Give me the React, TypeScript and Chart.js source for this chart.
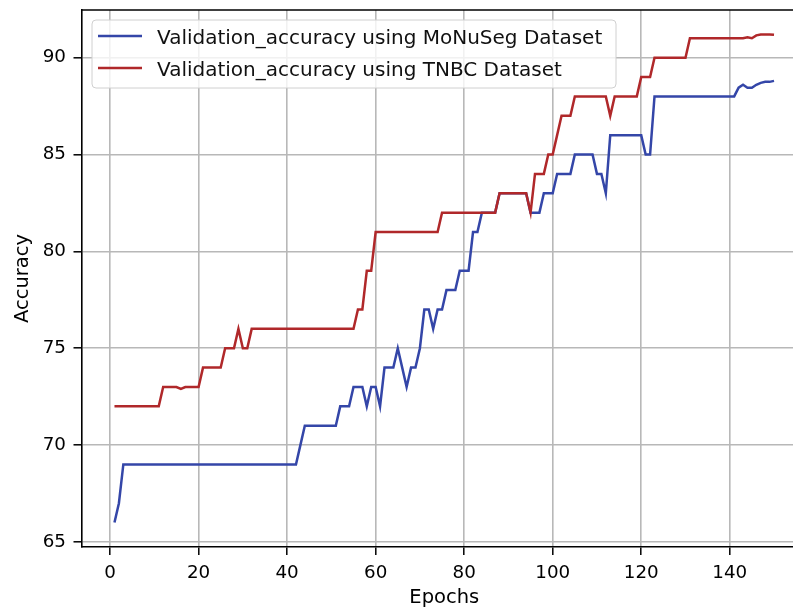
import React, { useEffect, useRef } from 'react';
import { Chart, registerables } from 'chart.js';

Chart.register(...registerables);

// Validation accuracy per epoch (epochs 1..150)
const monusegAcc = [
  66, 67, 69, 69, 69, 69, 69, 69, 69, 69,
  69, 69, 69, 69, 69, 69, 69, 69, 69, 69,
  69, 69, 69, 69, 69, 69, 69, 69, 69, 69,
  69, 69, 69, 69, 69, 69, 69, 69, 69, 69,
  69, 69, 70, 71, 71, 71, 71, 71, 71, 71,
  71, 72, 72, 72, 73, 73, 73, 72, 73, 73,
  72, 74, 74, 74, 75, 74, 73, 74, 74, 75,
  77, 77, 76, 77, 77, 78, 78, 78, 79, 79,
  79, 81, 81, 82, 82, 82, 82, 83, 83, 83,
  83, 83, 83, 83, 82, 82, 82, 83, 83, 83,
  84, 84, 84, 84, 85, 85, 85, 85, 85, 84,
  84, 83, 86, 86, 86, 86, 86, 86, 86, 86,
  85, 85, 88, 88, 88, 88, 88, 88, 88, 88,
  88, 88, 88, 88, 88, 88, 88, 88, 88, 88,
  88, 88.45, 88.6, 88.45, 88.45, 88.6, 88.7, 88.75, 88.75, 88.8,
];

const tnbcAcc = [
  72, 72, 72, 72, 72, 72, 72, 72, 72, 72,
  72, 73, 73, 73, 73, 72.9, 73, 73, 73, 73,
  74, 74, 74, 74, 74, 75, 75, 75, 76, 75,
  75, 76, 76, 76, 76, 76, 76, 76, 76, 76,
  76, 76, 76, 76, 76, 76, 76, 76, 76, 76,
  76, 76, 76, 76, 76, 77, 77, 79, 79, 81,
  81, 81, 81, 81, 81, 81, 81, 81, 81, 81,
  81, 81, 81, 81, 82, 82, 82, 82, 82, 82,
  82, 82, 82, 82, 82, 82, 82, 83, 83, 83,
  83, 83, 83, 83, 82, 84, 84, 84, 85, 85,
  86, 87, 87, 87, 88, 88, 88, 88, 88, 88,
  88, 88, 87, 88, 88, 88, 88, 88, 88, 89,
  89, 89, 90, 90, 90, 90, 90, 90, 90, 90,
  91, 91, 91, 91, 91, 91, 91, 91, 91, 91,
  91, 91, 91, 91.05, 91.0, 91.15, 91.2, 91.2, 91.2, 91.18,
];

const epochs = monusegAcc.map((_, i) => i + 1);

const xTickValues = [0, 20, 40, 60, 80, 100, 120, 140];
const yTickValues = [65, 70, 75, 80, 85, 90];

const seriesLabels = [
  'Validation_accuracy using MoNuSeg Dataset',
  'Validation_accuracy using TNBC Dataset',
];

const BLUE = '#3446a8';
const RED = '#b0282a';
const FONT = "'DejaVu Sans', sans-serif";

export default function App() {
  const ref = useRef<HTMLCanvasElement>(null);

  useEffect(() => {
    const canvas = ref.current;
    if (!canvas) return;

    const framePlugin = {
      id: 'frameAndLegend',
      afterDatasetsDraw(chart: any) {
        const { ctx, chartArea } = chart;
        const { left, top, right } = chartArea;
        ctx.save();
        // top spine
        ctx.strokeStyle = '#000';
        ctx.lineWidth = 1.6;
        ctx.beginPath();
        ctx.moveTo(left, top);
        ctx.lineTo(right, top);
        ctx.stroke();

        // legend box
        const bx = left + 10.5;
        const by = top + 10;
        const bw = 524;
        const bh = 68;
        const r = 4;
        ctx.beginPath();
        ctx.moveTo(bx + r, by);
        ctx.lineTo(bx + bw - r, by);
        ctx.quadraticCurveTo(bx + bw, by, bx + bw, by + r);
        ctx.lineTo(bx + bw, by + bh - r);
        ctx.quadraticCurveTo(bx + bw, by + bh, bx + bw - r, by + bh);
        ctx.lineTo(bx + r, by + bh);
        ctx.quadraticCurveTo(bx, by + bh, bx, by + bh - r);
        ctx.lineTo(bx, by + r);
        ctx.quadraticCurveTo(bx, by, bx + r, by);
        ctx.closePath();
        ctx.fillStyle = 'rgba(255,255,255,0.8)';
        ctx.fill();
        ctx.strokeStyle = '#d0d0d0';
        ctx.lineWidth = 1;
        ctx.stroke();

        const colors = [BLUE, RED];
        const rows = [by + 16, by + 48];
        ctx.font = `20px ${FONT}`;
        ctx.textBaseline = 'alphabetic';
        ctx.textAlign = 'left';
        seriesLabels.forEach((lab, i) => {
          ctx.strokeStyle = colors[i];
          ctx.lineWidth = 2.5;
          ctx.beginPath();
          ctx.moveTo(bx + 6, rows[i]);
          ctx.lineTo(bx + 50, rows[i]);
          ctx.stroke();
          ctx.fillStyle = '#111';
          ctx.fillText(lab, bx + 65, rows[i] + 8);
        });
        ctx.restore();
      },
    };

    const chart = new Chart(canvas, {
      type: 'line',
      data: {
        datasets: [
          {
            label: seriesLabels[0],
            data: epochs.map((e, i) => ({ x: e, y: monusegAcc[i] })),
            borderColor: BLUE,
            backgroundColor: BLUE,
            borderWidth: 2.5,
            pointRadius: 0,
            tension: 0,
            order: 1,
          },
          {
            label: seriesLabels[1],
            data: epochs.map((e, i) => ({ x: e, y: tnbcAcc[i] })),
            borderColor: RED,
            backgroundColor: RED,
            borderWidth: 2.5,
            pointRadius: 0,
            tension: 0,
            order: 0,
          },
        ],
      },
      options: {
        responsive: false,
        animation: false,
        devicePixelRatio: 1,
        layout: { padding: { left: 0, top: 10, right: 23, bottom: 0 } },
        plugins: {
          legend: { display: false },
          tooltip: { enabled: false },
        },
        scales: {
          x: {
            type: 'linear',
            bounds: 'data',
            min: -6.45,
            max: 157.45,
            afterBuildTicks: (s: any) => {
              s.ticks = xTickValues.map((v) => ({ value: v }));
            },
            afterFit: (s: any) => {
              s.height = 64;
              s.paddingLeft = 0;
              s.paddingRight = 0;
              s.paddingTop = 0;
              s.paddingBottom = 0;
            },
            ticks: {
              color: '#000',
              padding: 7,
              font: { family: FONT, size: 18.3 },
              maxRotation: 0,
              autoSkip: false,
              callback: (v: any) => String(v),
            },
            grid: {
              color: '#b8b8b8',
              lineWidth: 1.6,
              tickColor: '#000',
              tickLength: 8,
              tickWidth: 1.5,
            },
            border: { color: '#000', width: 1.6 },
            title: {
              display: true,
              text: 'Epochs',
              color: '#000',
              font: { family: FONT, size: 19.5 },
              padding: { top: 0, bottom: 1.3 },
            },
          },
          y: {
            type: 'linear',
            bounds: 'data',
            min: 64.74,
            max: 92.46,
            afterBuildTicks: (s: any) => {
              s.ticks = yTickValues.map((v) => ({ value: v }));
            },
            afterFit: (s: any) => {
              s.width = 81.5;
              s.paddingLeft = 0;
              s.paddingRight = 0;
              s.paddingTop = 0;
              s.paddingBottom = 0;
            },
            ticks: {
              color: '#000',
              padding: 7.5,
              font: { family: FONT, size: 18.3 },
              autoSkip: false,
              callback: (v: any) => String(v),
            },
            grid: {
              color: '#b8b8b8',
              lineWidth: 1.6,
              tickColor: '#000',
              tickLength: 8,
              tickWidth: 1.5,
            },
            border: { color: '#000', width: 1.6 },
            title: {
              display: true,
              text: 'Accuracy',
              color: '#000',
              font: { family: FONT, size: 19.5 },
              padding: { top: 11.3, bottom: 0 },
            },
          },
        },
      },
      plugins: [framePlugin],
    } as any);

    return () => chart.destroy();
  }, []);

  return (
    <div
      style={{
        position: 'fixed',
        left: 0,
        top: 0,
        width: 793,
        height: 611,
        overflow: 'hidden',
        background: '#fff',
      }}
    >
      <canvas ref={ref} width={830} height={611} style={{ display: 'block' }} />
    </div>
  );
}
